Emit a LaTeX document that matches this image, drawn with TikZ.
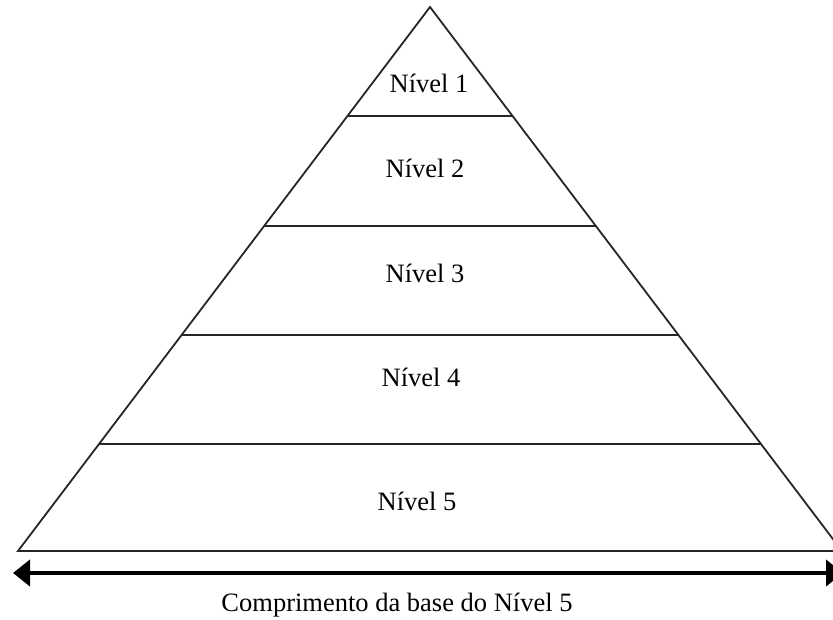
\documentclass[tikz,border=0pt]{standalone}
\usepackage{fontspec}
\setmainfont{Liberation Serif}
\usetikzlibrary{arrows.meta, calc, positioning}

\begin{document}
\begin{tikzpicture}[x=1pt, y=-1pt]

\def \xw{833}
\def \xh{619}

\tikzset{
	edge/.style={line width=1.8pt, black!85},
	level label/.style={font=\fontsize{26.5}{30}\selectfont, inner sep=0pt},
	span/.style={line width=4pt, {Triangle[length=17pt, width=26pt]}-{Triangle[length=17pt, width=26pt]}}
}

\clip (0, 0) rectangle (\xw, \xh); % picture frame

\coordinate (apex) at (430, 7);
\coordinate (base left) at (18, 551);
\coordinate (base right) at (842, 551);

\draw[edge, line join=miter] (base left) -- (apex) -- (base right) -- cycle; % pyramid

\foreach \t [count=\i] in {0.2004, 0.4026, 0.6029, 0.8033} {
	\coordinate (left \i) at ($(apex)!\t!(base left)$);
	\coordinate (right \i) at ($(apex)!\t!(base right)$);
	\draw[edge] (left \i) -- (right \i); % level line
}

\foreach \x/\y [count=\i] in {429/83, 425/168, 425/273, 421/377, 417/501} {
	\node[level label] (level \i) at (\x, \y) {Nível \i}; % level name
}

\coordinate (arrow left) at (13, 573);
\coordinate (arrow right) at (843, 573);
\draw[span] (arrow left) -- (arrow right); % base width

\node[level label] (caption) at (397, 605) {Comprimento da base do Nível 5};

\end{tikzpicture}
\end{document}
